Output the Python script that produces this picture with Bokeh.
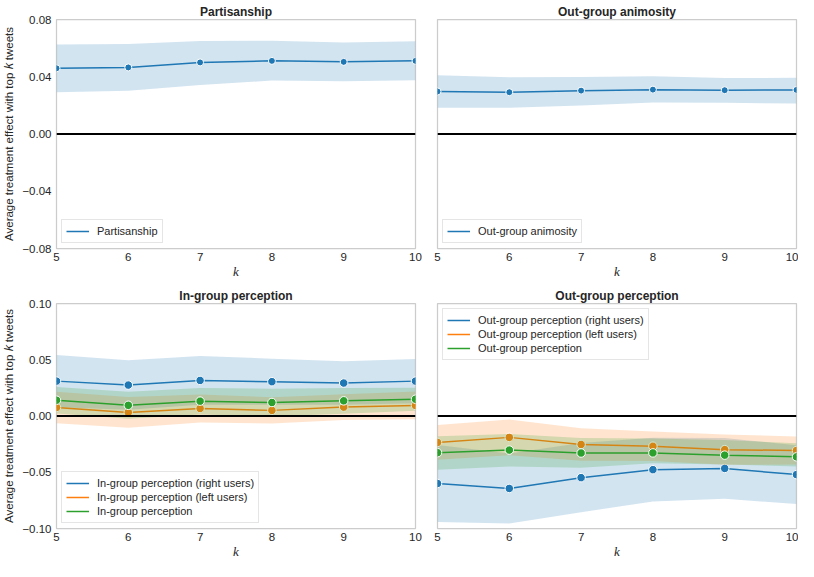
from bokeh.plotting import figure
from bokeh.layouts import column, row
from bokeh.models import Range1d, Span, Legend, LegendItem, FixedTicker
from bokeh.embed import file_html
from bokeh.resources import INLINE

k = [5, 6, 7, 8, 9, 10]

partisanship = [0.0459, 0.0465, 0.0500, 0.0511, 0.0504, 0.0511]
partisanship_lo = [0.0292, 0.0303, 0.0343, 0.0373, 0.0368, 0.0375]
partisanship_hi = [0.0625, 0.0629, 0.0650, 0.0652, 0.0639, 0.0648]

animosity = [0.0297, 0.0292, 0.0303, 0.0310, 0.0306, 0.0308]
animosity_lo = [0.0184, 0.0184, 0.0200, 0.0220, 0.0218, 0.0213]
animosity_hi = [0.0410, 0.0396, 0.0398, 0.0403, 0.0391, 0.0393]

ingroup_right = [0.0310, 0.0275, 0.0316, 0.0305, 0.0293, 0.0310]
ingroup_right_lo = [0.0078, 0.0055, 0.0099, 0.0100, 0.0100, 0.0113]
ingroup_right_hi = [0.0542, 0.0495, 0.0533, 0.0510, 0.0486, 0.0507]

ingroup_left = [0.0076, 0.0032, 0.0067, 0.0050, 0.0079, 0.0094]
ingroup_left_lo = [-0.0064, -0.0105, -0.0058, -0.0067, -0.0035, -0.0029]
ingroup_left_hi = [0.0216, 0.0169, 0.0192, 0.0167, 0.0193, 0.0217]

ingroup_all = [0.0140, 0.0095, 0.0132, 0.0120, 0.0135, 0.0149]
ingroup_all_lo = [0.0022, -0.0025, 0.0014, -0.0003, 0.0021, 0.0046]
ingroup_all_hi = [0.0258, 0.0215, 0.0250, 0.0243, 0.0249, 0.0252]

outgroup_right = [-0.0600, -0.0644, -0.0548, -0.0477, -0.0466, -0.0521]
outgroup_right_lo = [-0.0943, -0.0955, -0.0855, -0.0760, -0.0736, -0.0783]
outgroup_right_hi = [-0.0257, -0.0333, -0.0241, -0.0194, -0.0196, -0.0259]

outgroup_left = [-0.0235, -0.0190, -0.0253, -0.0269, -0.0299, -0.0307]
outgroup_left_lo = [-0.0389, -0.0349, -0.0398, -0.0400, -0.0433, -0.0432]
outgroup_left_hi = [-0.0081, -0.0031, -0.0108, -0.0138, -0.0165, -0.0182]

outgroup_all = [-0.0326, -0.0303, -0.0329, -0.0328, -0.0348, -0.0363]
outgroup_all_lo = [-0.0477, -0.0448, -0.0460, -0.0419, -0.0432, -0.0448]
outgroup_all_hi = [-0.0179, -0.0161, -0.0195, -0.0200, -0.0213, -0.0243]

top_ticks = [-0.08, -0.04, 0.0, 0.04, 0.08]
bottom_ticks = [-0.10, -0.05, 0.0, 0.05, 0.10]

BLUE, ORANGE, GREEN = "#1f77b4", "#ff7f0e", "#2ca02c"
TXT = "#262626"
FONT = "Liberation Sans"
YLABEL = "Average treatment effect with top \U0001D458 tweets"


def fmt(v):
    s = "%.2f" % abs(v)
    return ("\u2212" + s) if v < 0 else s


def make_fig(width, height, yr, ticks, left, right, top, bottom, show_y, title):
    p = figure(width=width, height=height, x_range=Range1d(5, 10), y_range=Range1d(*yr),
               output_backend="svg", toolbar_location=None,
               min_border_left=left, min_border_right=right,
               min_border_top=top, min_border_bottom=bottom)
    p.title.text = title
    p.title.align = "center"
    p.title.text_font = FONT
    p.title.text_font_style = "bold"
    p.title.text_font_size = "12px"
    p.title.text_color = TXT
    p.title.standoff = 2
    p.xgrid.visible = False
    p.ygrid.visible = False
    p.outline_line_color = "#cccccc"
    p.outline_line_width = 1.25
    p.background_fill_color = "white"
    for ax in [p.xaxis[0], p.yaxis[0]]:
        ax.axis_line_color = None
        ax.major_tick_line_color = None
        ax.minor_tick_line_color = None
        ax.major_tick_out = 0
        ax.major_tick_in = 0
        ax.minor_tick_out = 0
        ax.minor_tick_in = 0
        ax.major_label_text_font = FONT
        ax.major_label_text_font_size = "11.5px"
        ax.major_label_text_color = TXT
    p.xaxis.ticker = FixedTicker(ticks=k)
    p.xaxis.major_label_standoff = 4
    p.xaxis.axis_label = "k"
    p.xaxis.axis_label_text_font = "Liberation Serif"
    p.xaxis.axis_label_text_font_style = "italic"
    p.xaxis.axis_label_text_font_size = "13px"
    p.xaxis.axis_label_text_color = TXT
    p.xaxis.axis_label_standoff = 0
    if show_y:
        p.yaxis.ticker = FixedTicker(ticks=ticks)
        p.yaxis.major_label_overrides = {t: fmt(t) for t in ticks}
        p.yaxis.major_label_standoff = 5
        p.yaxis.axis_label = YLABEL
        p.yaxis.axis_label_text_font = FONT
        p.yaxis.axis_label_text_font_style = "normal"
        p.yaxis.axis_label_text_font_size = "11.5px"
        p.yaxis.axis_label_text_color = TXT
        p.yaxis.axis_label_standoff = 4
    else:
        p.yaxis.visible = False
    p.add_layout(Span(location=0, dimension="width", line_color="black", line_width=2))
    return p


def series(p, y, lo, hi, color, size):
    p.varea(x=k, y1=lo, y2=hi, fill_color=color, fill_alpha=0.2)
    ln = p.line(x=k, y=y, line_color=color, line_width=1.5)
    p.scatter(x=k, y=y, size=size, fill_color=color, line_color="white", line_width=1)
    return ln


def add_legend(p, items, loc):
    leg = Legend(items=[LegendItem(label=l, renderers=[r]) for l, r in items], location=loc)
    leg.label_text_font = FONT
    leg.label_text_font_size = "11px"
    leg.label_text_color = TXT
    leg.border_line_color = "#cccccc"
    leg.border_line_width = 1
    leg.background_fill_alpha = 0.8
    leg.padding = 4
    leg.margin = 5
    leg.spacing = 0
    leg.glyph_width = 23
    leg.glyph_height = 14
    leg.label_height = 14
    leg.label_standoff = 8
    p.add_layout(leg)


tl = make_fig(425, 281, (-0.08, 0.08), top_ticks, 56, 10, 19, 33, True, "Partisanship")
tr = make_fig(373, 281, (-0.08, 0.08), top_ticks, 12, 2, 19, 33, False, "Out-group animosity")
bl = make_fig(425, 280, (-0.10, 0.10), bottom_ticks, 56, 10, 22, 33, True, "In-group perception")
br = make_fig(373, 280, (-0.10, 0.10), bottom_ticks, 12, 2, 22, 33, False, "Out-group perception")

r = series(tl, partisanship, partisanship_lo, partisanship_hi, BLUE, 7)
add_legend(tl, [("Partisanship", r)], "bottom_left")

r = series(tr, animosity, animosity_lo, animosity_hi, BLUE, 7)
add_legend(tr, [("Out-group animosity", r)], "bottom_left")

r1 = series(bl, ingroup_right, ingroup_right_lo, ingroup_right_hi, BLUE, 8.5)
r2 = series(bl, ingroup_left, ingroup_left_lo, ingroup_left_hi, ORANGE, 8.5)
r3 = series(bl, ingroup_all, ingroup_all_lo, ingroup_all_hi, GREEN, 8.5)
add_legend(bl, [("In-group perception (right users)", r1),
                ("In-group perception (left users)", r2),
                ("In-group perception", r3)], "bottom_left")

r1 = series(br, outgroup_right, outgroup_right_lo, outgroup_right_hi, BLUE, 8.5)
r2 = series(br, outgroup_left, outgroup_left_lo, outgroup_left_hi, ORANGE, 8.5)
r3 = series(br, outgroup_all, outgroup_all_lo, outgroup_all_hi, GREEN, 8.5)
add_legend(br, [("Out-group perception (right users)", r1),
                ("Out-group perception (left users)", r2),
                ("Out-group perception", r3)], "top_left")

layout = column(row(tl, tr), row(bl, br))
open("out.html", "w").write(file_html(layout, INLINE))
